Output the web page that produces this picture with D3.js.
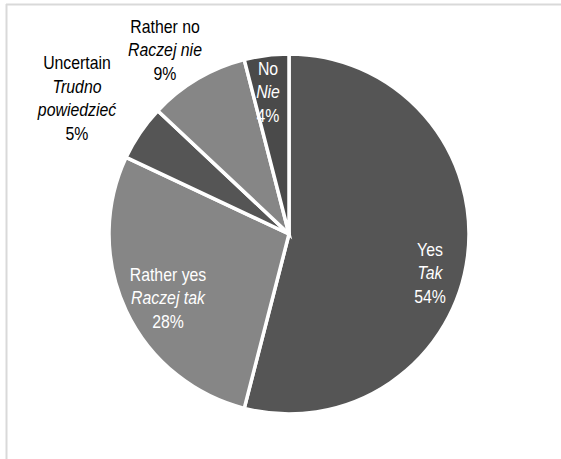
<!DOCTYPE html>
<html><head><meta charset="utf-8">
<script src="https://cdn.jsdelivr.net/npm/d3@7"></script>
<style>html,body{margin:0;padding:0;background:#fff;}svg{display:block;}</style>
</head><body>
<script>
const categories = ["Yes", "Rather yes", "Uncertain", "Rather no", "No"];
const categoriesPl = ["Tak", "Raczej tak", "Trudno powiedzieć", "Raczej nie", "Nie"];
const values = [54, 28, 5, 9, 4];
const pctLabels = ["54%", "28%", "5%", "9%", "4%"];

const W = 561, H = 459;
const cx = 289, cy = 234, R = 180;
const fills = ["#555555", "#868686", "#555555", "#868686", "#4a4a4a"];
const textFill = ["#ffffff", "#ffffff", "#000000", "#000000", "#ffffff"];
// label anchor offsets relative to centre (layout only)
const labelOffsets = [[141, 39], [-121, 64], [-212, -136], [-124, -184], [-21, -142]];
// Polish line splits
const plLines = [["Tak"], ["Raczej tak"], ["Trudno", "powiedzieć"], ["Raczej nie"], ["Nie"]];

const svg = d3.select("body").append("svg").attr("width", W).attr("height", H);

// frame
svg.append("line").attr("x1", 6).attr("x2", W).attr("y1", 4.5).attr("y2", 4.5)
  .attr("stroke", "#d9d9d9").attr("stroke-width", 2);
svg.append("line").attr("x1", 6.5).attr("x2", 6.5).attr("y1", 4).attr("y2", H)
  .attr("stroke", "#d9d9d9").attr("stroke-width", 2);

const data = categories.map((c, i) => ({ name: c, value: values[i], i }));
const pie = d3.pie().value(d => d.value).sort(null);
const arc = d3.arc().innerRadius(0).outerRadius(R);

const g = svg.append("g").attr("transform", `translate(${cx},${cy})`);
g.selectAll("path").data(pie(data)).join("path")
  .attr("d", arc)
  .attr("fill", d => fills[d.data.i])
  .attr("stroke", "#ffffff")
  .attr("stroke-width", 3.5)
  .attr("stroke-linejoin", "miter");

const lh = 23.5;
const fs = 18;
data.forEach((d, i) => {
  const lines = [{ t: categories[i], it: false }]
    .concat(plLines[i].map(t => ({ t, it: true })))
    .concat([{ t: pctLabels[i], it: false }]);
  const [ox, oy] = labelOffsets[i];
  const n = lines.length;
  const lg = g.append("g").attr("transform", `translate(${ox},${oy}) scale(0.88,1)`);
  lines.forEach((l, k) => {
    lg.append("text")
      .attr("x", 0)
      .attr("y", (k - (n - 1) / 2) * lh)
      .attr("dy", "0.35em")
      .attr("text-anchor", "middle")
      .attr("font-family", "'Liberation Sans', Arial, sans-serif")
      .attr("font-size", fs)
      .attr("font-style", l.it ? "italic" : "normal")
      .attr("fill", textFill[i])
      .text(l.t);
  });
});
</script>
</body></html>
